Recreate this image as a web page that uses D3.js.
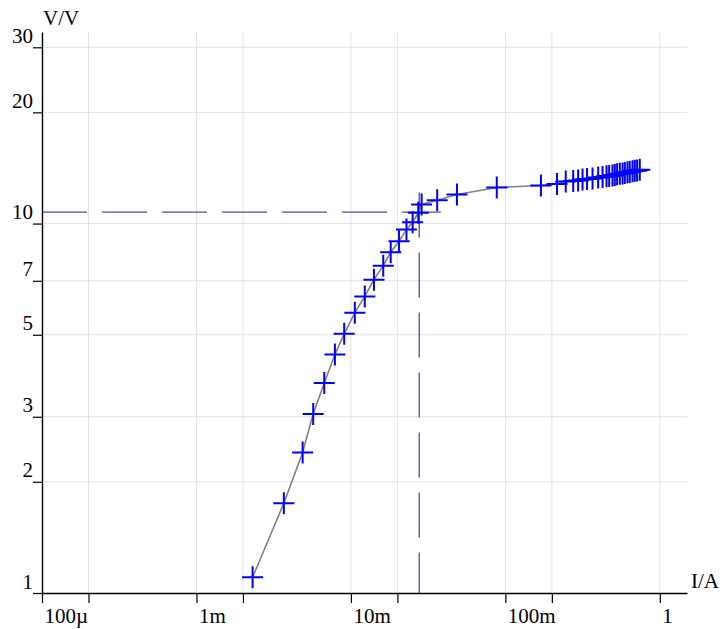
<!DOCTYPE html>
<html>
<head>
<meta charset="utf-8">
<script src="https://cdn.jsdelivr.net/npm/d3@7"></script>
<style>
  body { margin: 0; background: #fff; }
  svg { display: block; }
  text { font-family: "Liberation Serif", "DejaVu Serif", serif; fill: #000; }
</style>
</head>
<body>
<svg id="display" width="725" height="629"></svg>
<script>
// measured current (A) and gain (V/V)
const current_A = [0.00231, 0.00368, 0.00487, 0.00570, 0.00672, 0.00788, 0.00905, 0.0106, 0.0123, 0.0141,
    0.0162, 0.0181, 0.0205, 0.0229, 0.0251, 0.0273, 0.0287, 0.0362, 0.0486, 0.088,
    0.170, 0.216, 0.246, 0.275, 0.296, 0.316, 0.338, 0.367, 0.399, 0.426,
    0.452, 0.470, 0.494, 0.511, 0.529, 0.551, 0.574, 0.594, 0.618, 0.639,
    0.666, 0.689, 0.713, 0.742];
const gain_VV = [1.103, 1.75, 2.40, 3.05, 3.70, 4.42, 5.03, 5.74, 6.35, 7.05,
    7.69, 8.36, 8.96, 9.63, 10.08, 10.69, 11.26, 11.57, 11.98, 12.52,
    12.68, 12.80, 13.00, 13.04, 13.08, 13.16, 13.20, 13.25, 13.33, 13.37,
    13.42, 13.46, 13.50, 13.54, 13.59, 13.63, 13.67, 13.71, 13.76, 13.80,
    13.85, 13.89, 13.93, 13.98];

// marker lines (knee)
const knee_current = 0.0277;
const knee_gain = 10.74;
const hline_end_current = 0.0382;
const vline_top_gain = 12.13;

const x_ticks = [1e-4, 2e-4, 1e-3, 2e-3, 1e-2, 2e-2, 0.1, 0.2, 1];
const x_labels = {"0.0001": "100µ", "0.001": "1m", "0.01": "10m", "0.1": "100m", "1": "1"};
const y_ticks = [1, 2, 3, 5, 7, 10, 20, 30];

const display = d3.select("#display");
const x_left = 42, x_right = 687, y_bottom = 593, y_top = 32;

const x = d3.scaleLog().domain([1e-4, 1.5]).range([x_left, x_right]);
const y = d3.scaleLog().domain([1, 33]).range([y_bottom, y_top]);

// grid
display.append("g").selectAll("line")
    .data(x_ticks.slice(1))
    .join("line")
    .attr("x1", d => x(d)).attr("x2", d => x(d))
    .attr("y1", y_top).attr("y2", y_bottom)
    .attr("stroke", "#e3e3e3").attr("stroke-width", 1);
display.append("g").selectAll("line")
    .data(y_ticks.slice(1))
    .join("line")
    .attr("x1", x_left).attr("x2", x_right)
    .attr("y1", d => y(d)).attr("y2", d => y(d))
    .attr("stroke", "#e3e3e3").attr("stroke-width", 1);

// dashed knee lines
display.append("line")
    .attr("x1", x(1e-4)).attr("x2", x(hline_end_current))
    .attr("y1", y(knee_gain)).attr("y2", y(knee_gain))
    .attr("stroke", "#4f4fa0").attr("stroke-width", 1.3)
    .attr("stroke-dasharray", "45,15");
display.append("line")
    .attr("x1", x(knee_current)).attr("x2", x(knee_current))
    .attr("y1", y(vline_top_gain)).attr("y2", y(1))
    .attr("stroke", "#4f4fa0").attr("stroke-width", 1.3)
    .attr("stroke-dasharray", "45,15");

// x axis
const x_axis = display.append("g")
    .attr("transform", "translate(0," + y_bottom + ")")
    .call(d3.axisBottom(x).tickValues(x_ticks).tickSize(10).tickSizeOuter(0)
        .tickFormat(d => x_labels[String(d)] || ""));
x_axis.select(".domain").attr("stroke-width", 1.4);
x_axis.selectAll(".tick line").attr("stroke-width", 1.2);
x_axis.selectAll(".tick text")
    .attr("text-anchor", "start").attr("x", 2).attr("y", 30).attr("dy", null)
    .style("font-size", "21px").style("font-family", "Liberation Serif");

// y axis
const y_axis = display.append("g")
    .attr("transform", "translate(" + x_left + ",0)")
    .call(d3.axisLeft(y).tickValues(y_ticks).tickSize(9).tickSizeOuter(0)
        .tickFormat(d3.format("d")));
y_axis.select(".domain").attr("stroke-width", 1.4);
y_axis.selectAll(".tick line").attr("stroke-width", 1.2);
y_axis.selectAll(".tick text")
    .attr("text-anchor", "end").attr("x", -9).attr("y", -5).attr("dy", null)
    .style("font-size", "21px").style("font-family", "Liberation Serif");

// axis titles
display.append("text").attr("x", 43).attr("y", 25)
    .style("font-size", "21px").text("V/V");
display.append("text").attr("x", 691).attr("y", 588)
    .style("font-size", "21px").text("I/A");

// gain curve
const points = current_A.map((c, i) => [c, gain_VV[i]]);
display.append("path")
    .datum(points)
    .attr("fill", "none")
    .attr("stroke", "#808080")
    .attr("stroke-width", 1.6)
    .attr("d", d3.line().x(d => x(d[0])).y(d => y(d[1])));

// markers
display.append("g").selectAll("path")
    .data(points)
    .join("path")
    .attr("transform", d => "translate(" + x(d[0]) + "," + y(d[1]) + ")")
    .attr("d", "M-10.5,0H10.5M0,-11V11")
    .attr("stroke", "#0000ff")
    .attr("stroke-width", 2)
    .attr("fill", "none");
</script>
</body>
</html>
